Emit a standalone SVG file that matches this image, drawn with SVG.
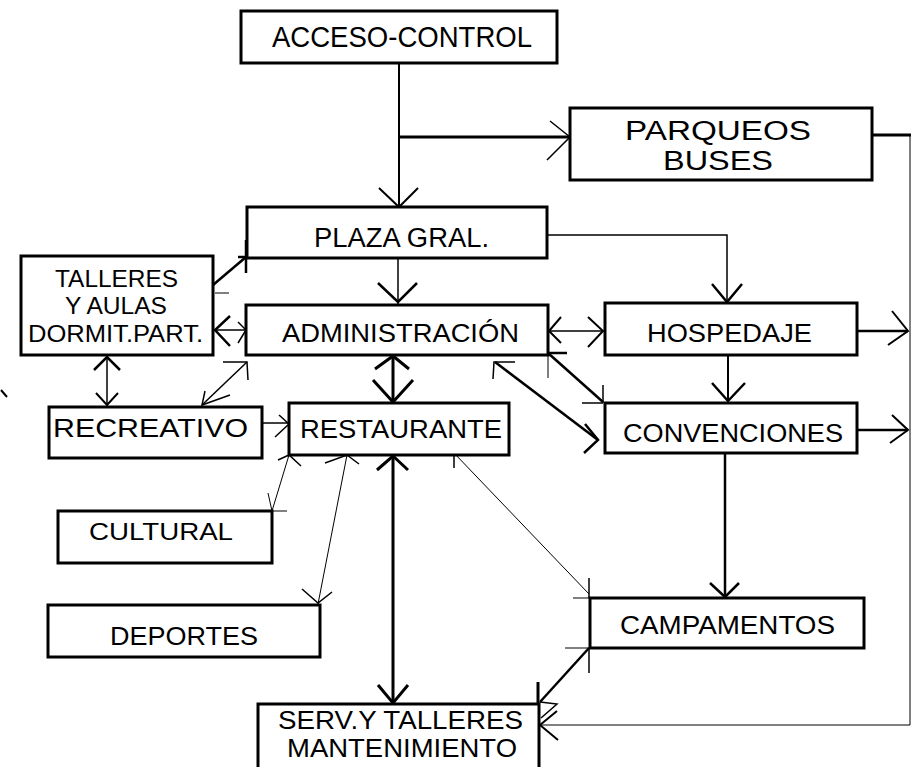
<svg xmlns="http://www.w3.org/2000/svg" width="912" height="767" viewBox="0 0 912 767">
<style>
.box{fill:#fff;stroke:#000;stroke-width:3}
.t{font-family:"Liberation Sans",Arial,Helvetica,sans-serif;fill:#000}
.s23{font-size:23px}.s25{font-size:25px}.s27{font-size:27px}.s28{font-size:28px}.s29{font-size:29px}
.w1{stroke-width:1}.w15{stroke-width:1.5}.w2{stroke-width:2}.w25{stroke-width:2.5}.w3{stroke-width:3}
</style>
<rect width="912" height="767" fill="#fff"/>
<g id="connectors" fill="none" stroke="#000" stroke-linejoin="miter">
  <!-- ACCESO -> PLAZA -->
  <line class="w2" x1="399" y1="63" x2="399" y2="207"/>
  <polyline class="w2" points="379,188 399,207 418,188"/>
  <!-- branch -> PARQUEOS -->
  <line class="w3" x1="399" y1="137" x2="570" y2="137"/>
  <polyline class="w15" points="550,121 570,137 547,160"/>
  <!-- PARQUEOS -> right edge -> SERV -->
  <line class="w3" x1="872" y1="135" x2="911" y2="135"/>
  <polyline class="w1" points="910,135 910,725 540,725"/>
  <polyline class="w2" points="557,711 540,725 558,740"/>
  <!-- PLAZA -> HOSPEDAJE -->
  <polyline class="w15" points="547,235 727,235 727,303"/>
  <polyline class="w25" points="712,284 727,302 742,284"/>
  <!-- PLAZA -> ADMIN -->
  <line class="w15" x1="398" y1="258" x2="398" y2="305"/>
  <polyline class="w25" points="378,283 398,302 417,283"/>
  <!-- TALLERES - PLAZA -->
  <line class="w25" x1="213" y1="285" x2="246" y2="257"/>
  <line class="w25" x1="246" y1="240" x2="246" y2="273"/>
  <line class="w25" x1="238" y1="257" x2="248" y2="257"/>
  <line class="w1" x1="215" y1="293" x2="229" y2="293"/>
  <!-- TALLERES <-> ADMIN -->
  <line class="w15" x1="213" y1="330" x2="247" y2="330"/>
  <polyline class="w25" points="230,316 215,330 230,346"/>
  <polyline class="w15" points="238,322 246,330 238,343"/>
  <!-- TALLERES <-> RECREATIVO -->
  <line class="w15" x1="107" y1="356" x2="107" y2="406"/>
  <polyline class="w25" points="94,370 107,357 120,370"/>
  <polyline class="w2" points="96,393 107,405 118,393"/>
  <!-- ADMIN <-> RECREATIVO -->
  <line class="w15" x1="247" y1="362" x2="202" y2="405"/>
  <polyline class="w15" points="223,362 247,362 248,380"/>
  <polyline class="w15" points="205,391 202,405 230,395"/>
  <!-- RECREATIVO -> RESTAURANTE -->
  <line class="w15" x1="262" y1="423" x2="289" y2="423"/>
  <polyline class="w15" points="279,415 289,424 275,437"/>
  <!-- ADMIN <-> RESTAURANTE -->
  <line class="w3" x1="393" y1="356" x2="393" y2="403"/>
  <polyline class="w3" points="375,369 393,356 409,369"/>
  <polyline class="w3" points="373,380 393,402 413,380"/>
  <!-- ADMIN <-> HOSPEDAJE -->
  <line class="w15" x1="548" y1="331" x2="604" y2="331"/>
  <polyline class="w2" points="561,317 549,331 561,343"/>
  <polyline class="w2" points="588,317 603,331 588,347"/>
  <!-- HOSPEDAJE -> CONVENCIONES -->
  <line class="w2" x1="728" y1="355" x2="728" y2="403"/>
  <polyline class="w25" points="712,383 728,401 745,383"/>
  <!-- HOSPEDAJE -> right -->
  <line class="w25" x1="857" y1="331" x2="908" y2="331"/>
  <polyline class="w2" points="892,311 908,331 888,345"/>
  <!-- CONVENCIONES -> right -->
  <line class="w25" x1="857" y1="430" x2="908" y2="430"/>
  <polyline class="w2" points="892,415 908,430 890,443"/>
  <!-- ADMIN corner -> CONVENCIONES corner -->
  <line class="w25" x1="548" y1="353" x2="603" y2="402"/>
  <line class="w25" x1="547" y1="353" x2="567" y2="353"/>
  <line class="w1" x1="548" y1="355" x2="548" y2="378"/>
  <line class="w15" x1="603" y1="385" x2="603" y2="403"/>
  <line class="w15" x1="582" y1="403" x2="603" y2="403"/>
  <!-- ADMIN <-> CONVENCIONES -->
  <line class="w25" x1="495" y1="362" x2="598" y2="440"/>
  <polyline class="w15" points="515,362 494,362 493,379"/>
  <polyline class="w25" points="585,424 598,440 584,453"/>
  <!-- RESTAURANTE <-> SERV -->
  <line class="w3" x1="393" y1="455" x2="393" y2="704"/>
  <polyline class="w3" points="377,470 393,456 408,470"/>
  <polyline class="w3" points="378,685 393,703 408,685"/>
  <!-- CULTURAL <-> RESTAURANTE -->
  <line class="w1" x1="272" y1="511" x2="289" y2="455"/>
  <polyline class="w15" points="278,460 289,455 301,466"/>
  <polyline class="w1" points="268,493 272,511 287,511"/>
  <!-- DEPORTES <-> RESTAURANTE -->
  <line class="w1" x1="347" y1="455" x2="318" y2="604"/>
  <polyline class="w15" points="325,463 347,455 359,464"/>
  <polyline class="w15" points="302,589 318,603 332,592"/>
  <!-- RESTAURANTE -> CAMPAMENTOS -->
  <line class="w1" x1="454" y1="453" x2="589" y2="594"/>
  <line class="w15" x1="454" y1="453" x2="454" y2="468"/>
  <line class="w15" x1="589" y1="578" x2="589" y2="598"/>
  <line class="w1" x1="573" y1="598" x2="589" y2="598"/>
  <!-- CONVENCIONES -> CAMPAMENTOS -->
  <line class="w25" x1="725" y1="453" x2="725" y2="598"/>
  <polyline class="w25" points="710,583 725,597 739,583"/>
  <!-- CAMPAMENTOS -> SERV -->
  <line class="w25" x1="589" y1="648" x2="540" y2="702"/>
  <line class="w1" x1="565" y1="648" x2="590" y2="648"/>
  <line class="w15" x1="589" y1="648" x2="589" y2="673"/>
  <line class="w3" x1="538" y1="682" x2="538" y2="706"/>
  <polyline class="w15" points="540,702 557,704 541,718"/>
  <!-- stray mark -->
  <line class="w2" x1="1" y1="390" x2="7" y2="397"/>
</g>
<g id="acceso">
  <rect class="box" x="241" y="11" width="316" height="52"/>
  <text class="t s29" x="272" y="47" textLength="260" lengthAdjust="spacingAndGlyphs">ACCESO-CONTROL</text>
</g>
<g id="parqueos">
  <rect class="box" x="570" y="108" width="302" height="72"/>
  <text class="t s27" x="625" y="140" textLength="186" lengthAdjust="spacingAndGlyphs">PARQUEOS</text>
  <text class="t s27" x="663" y="170" textLength="110" lengthAdjust="spacingAndGlyphs">BUSES</text>
</g>
<g id="plaza">
  <rect class="box" x="247" y="207" width="300" height="51"/>
  <text class="t s27" x="314" y="247" textLength="175" lengthAdjust="spacingAndGlyphs">PLAZA GRAL.</text>
</g>
<g id="talleres">
  <rect class="box" x="21" y="256" width="192" height="99"/>
  <text class="t s23" x="55" y="287" textLength="123" lengthAdjust="spacingAndGlyphs">TALLERES</text>
  <text class="t s23" x="65" y="314" textLength="102" lengthAdjust="spacingAndGlyphs">Y AULAS</text>
  <text class="t s23" x="28" y="342" textLength="175" lengthAdjust="spacingAndGlyphs">DORMIT.PART.</text>
</g>
<g id="administracion">
  <rect class="box" x="246" y="305" width="302" height="50"/>
  <text class="t s25" x="282" y="342" textLength="237" lengthAdjust="spacingAndGlyphs">ADMINISTRACIÓN</text>
</g>
<g id="hospedaje">
  <rect class="box" x="605" y="303" width="252" height="52"/>
  <text class="t s25" x="647" y="342" textLength="165" lengthAdjust="spacingAndGlyphs">HOSPEDAJE</text>
</g>
<g id="recreativo">
  <rect class="box" x="49" y="407" width="213" height="51"/>
  <text class="t s25" x="53" y="437" textLength="195" lengthAdjust="spacingAndGlyphs">RECREATIVO</text>
</g>
<g id="restaurante">
  <rect class="box" x="289" y="403" width="220" height="52"/>
  <text class="t s25" x="300" y="438" textLength="202" lengthAdjust="spacingAndGlyphs">RESTAURANTE</text>
</g>
<g id="convenciones">
  <rect class="box" x="605" y="403" width="252" height="50"/>
  <text class="t s25" x="623" y="442" textLength="220" lengthAdjust="spacingAndGlyphs">CONVENCIONES</text>
</g>
<g id="cultural">
  <rect class="box" x="58" y="511" width="214" height="52"/>
  <text class="t s23" x="89" y="540" textLength="144" lengthAdjust="spacingAndGlyphs">CULTURAL</text>
</g>
<g id="deportes">
  <rect class="box" x="48" y="605" width="272" height="52"/>
  <text class="t s25" x="110" y="645" textLength="148" lengthAdjust="spacingAndGlyphs">DEPORTES</text>
</g>
<g id="campamentos">
  <rect class="box" x="590" y="598" width="274" height="50"/>
  <text class="t s25" x="620" y="634" textLength="215" lengthAdjust="spacingAndGlyphs">CAMPAMENTOS</text>
</g>
<g id="serv">
  <rect class="box" x="258" y="704" width="281" height="75"/>
  <text class="t s25" x="278" y="729" textLength="245" lengthAdjust="spacingAndGlyphs">SERV.Y TALLERES</text>
  <text class="t s25" x="287" y="757" textLength="230" lengthAdjust="spacingAndGlyphs">MANTENIMIENTO</text>
</g>
</svg>
